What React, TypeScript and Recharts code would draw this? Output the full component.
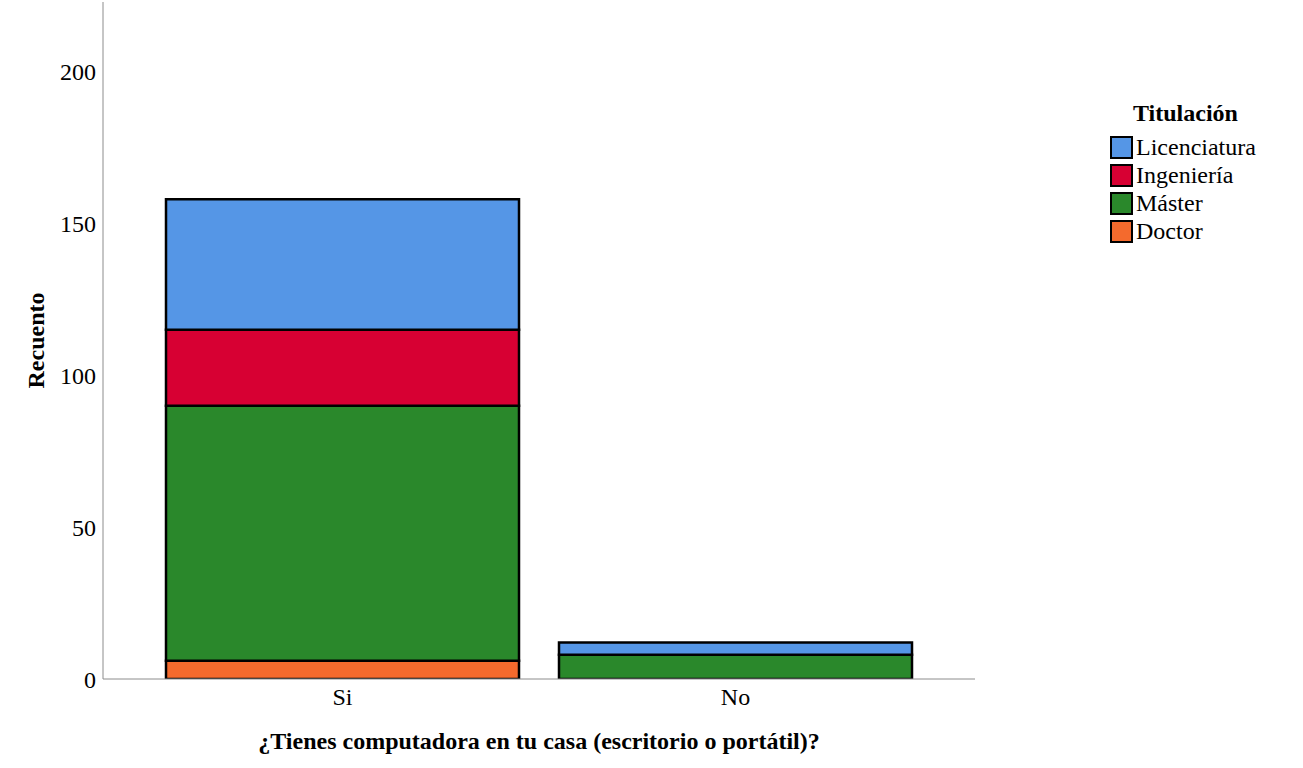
import React from "react";
import { BarChart, Bar, XAxis, YAxis } from "recharts";

const categories = ["Si", "No"];
const licenciatura = [43, 4];
const ingenieria = [25, 0];
const master = [84, 8];
const doctor = [6, 0];
const yTicks = [0, 50, 100, 150, 200];

const SERIES = [
  { key: "Doctor", values: doctor, color: "#f46a2d" },
  { key: "Máster", values: master, color: "#2a882b" },
  { key: "Ingeniería", values: ingenieria, color: "#d70033" },
  { key: "Licenciatura", values: licenciatura, color: "#5596e6" },
];

const data = categories.map((name, i) => {
  const row: Record<string, any> = { name };
  for (const s of SERIES) row[s.key] = s.values[i];
  return row;
});

const FONT = "Liberation Serif";
const FS = 24;

function LegendBox() {
  const items = [...SERIES].reverse();
  return (
    <div style={{ position: "absolute", left: 1110, top: 99, fontFamily: FONT, color: "#000" }}>
      <div style={{ fontWeight: "bold", fontSize: FS, marginLeft: 23, marginBottom: 6, lineHeight: "28px" }}>Titulación</div>
      {items.map((s) => (
        <div key={s.key} style={{ display: "flex", alignItems: "center", height: 28 }}>
          <span
            style={{
              width: 19,
              height: 19,
              background: s.color,
              border: "2px solid #000",
              marginRight: 3,
              display: "inline-block",
              flexShrink: 0,
            }}
          />
          <span style={{ fontSize: FS, lineHeight: "28px" }}>{s.key}</span>
        </div>
      ))}
    </div>
  );
}

export default function App() {
  return (
    <div style={{ position: "absolute", left: 0, top: 0, width: 1303, height: 768, background: "#fff" }}>
      <BarChart
        width={1303}
        height={768}
        data={data}
        margin={{ top: 2, right: 328, bottom: 0, left: 0 }}
        barCategoryGap={20}
      >
        <XAxis
          dataKey="name"
          height={89}
          padding={{ left: 43, right: 43 }}
          axisLine={{ stroke: "#8c8c8c" }}
          tickLine={false}
          tickSize={7}
          tickMargin={2}
          tick={{ fontSize: FS, fill: "#000", fontFamily: FONT }}
          label={{
            content: ({ viewBox }: any) => (
              <text
                x={viewBox.x + viewBox.width / 2}
                y={viewBox.y + 70}
                textAnchor="middle"
                fontFamily={FONT}
                fontWeight="bold"
                fontSize={FS}
                fill="#000"
              >
                ¿Tienes computadora en tu casa (escritorio o portátil)?
              </text>
            ),
          }}
        />
        <YAxis
          width={103}
          domain={[0, 223]}
          ticks={yTicks}
          allowDataOverflow
          axisLine={{ stroke: "#8c8c8c" }}
          tickLine={false}
          tickSize={5}
          tickMargin={2}
          tick={{ fontSize: FS, fill: "#000", fontFamily: FONT }}
          label={{
            content: ({ viewBox }: any) => {
              const cx = 44;
              const cy = viewBox.y + viewBox.height / 2;
              return (
                <text
                  x={cx}
                  y={cy}
                  transform={`rotate(-90, ${cx}, ${cy})`}
                  textAnchor="middle"
                  fontFamily={FONT}
                  fontWeight="bold"
                  fontSize={FS}
                  fill="#000"
                >
                  Recuento
                </text>
              );
            },
          }}
        />
        {SERIES.map((s) => (
          <Bar
            key={s.key}
            dataKey={s.key}
            stackId="a"
            fill={s.color}
            stroke="#000"
            strokeWidth={2.5}
            isAnimationActive={false}
          />
        ))}
      </BarChart>
      <LegendBox />
    </div>
  );
}
